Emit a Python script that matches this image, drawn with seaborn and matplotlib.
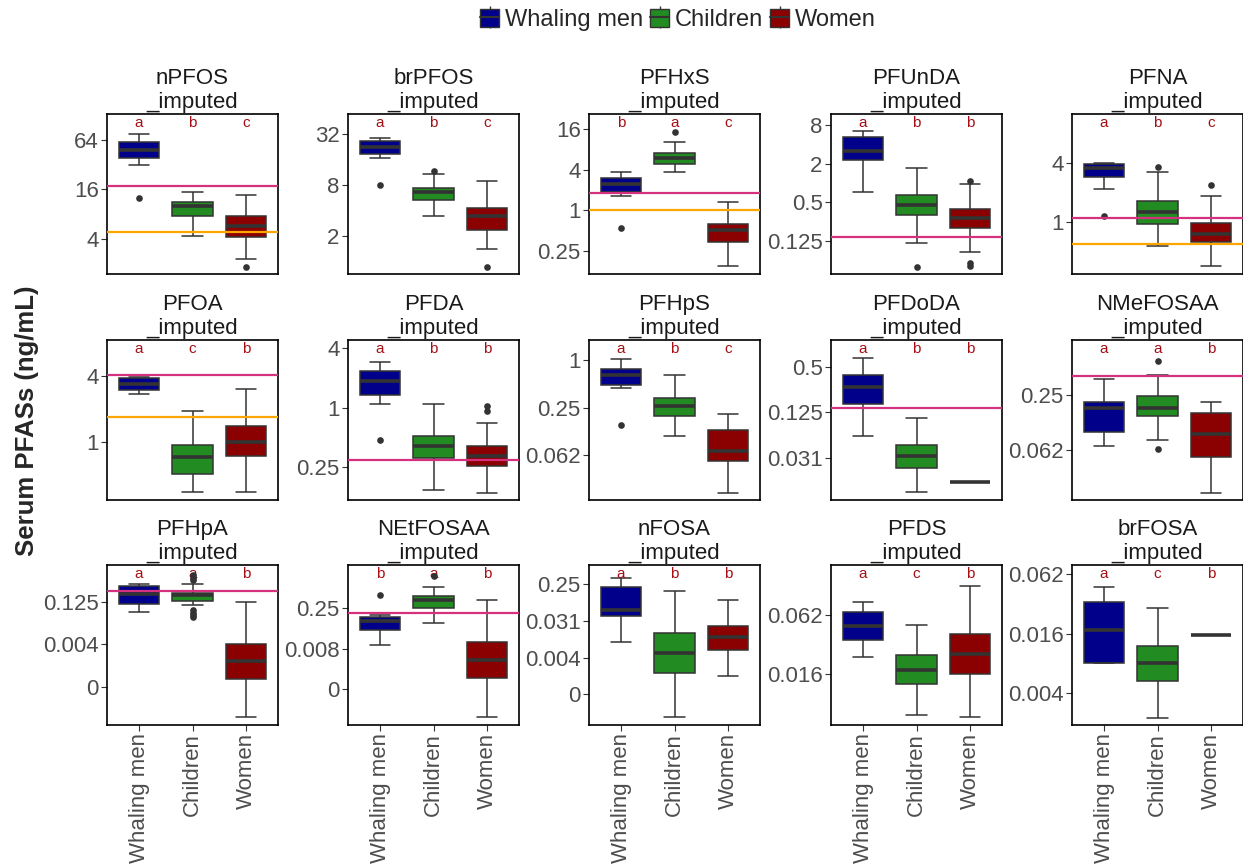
"""
Serum PFAS concentrations by group, one log2 boxplot panel per compound.
"""

import numpy as np
import pandas as pd
import matplotlib
matplotlib.use("Agg")
import matplotlib.pyplot as plt
import matplotlib.transforms as mtransforms
from matplotlib.patches import Patch
from matplotlib.lines import Line2D
from matplotlib.legend_handler import HandlerTuple
from matplotlib.ticker import NullLocator
import seaborn as sns

groups = ["Whaling men", "Children", "Women"]
compounds = ["nPFOS", "brPFOS", "PFHxS", "PFUnDA", "PFNA",
             "PFOA", "PFDA", "PFHpS", "PFDoDA", "NMeFOSAA",
             "PFHpA", "NEtFOSAA", "nFOSA", "PFDS", "brFOSA"]

# box stats: (lower whisker, q1, median, q3, upper whisker)
men_box = [
    (31.8, 38.8, 48.5, 60.5, 75.6),
    (16.4, 18.3, 22.3, 26.5, 28.2),
    (1.64, 1.88, 2.44, 2.99, 3.68),
    (0.72, 2.32, 3.2, 5.3, 6.5),
    (2.16, 2.85, 3.56, 3.94, 3.98),
    (2.77, 3.02, 3.43, 3.86, 3.95),
    (1.08, 1.33, 1.88, 2.35, 2.93),
    (0.45, 0.48, 0.65, 0.77, 1.03),
    (0.061, 0.163, 0.27, 0.39, 0.65),
    (0.068, 0.097, 0.177, 0.206, 0.37),
    (0.055, 0.106, 0.23, 0.45, 0.52),
    (0.0107, 0.039, 0.084, 0.112, 0.141),
    (0.0094, 0.041, 0.059, 0.215, 0.36),
    (0.0235, 0.0345, 0.049, 0.068, 0.086),
    (0.0079, 0.0079, 0.017, 0.033, 0.046),
]
children_box = [
    (4.4, 7.5, 10.0, 11.1, 14.8),
    (3.5, 5.28, 6.55, 7.3, 10.8),
    (3.68, 4.87, 5.9, 6.9, 10.3),
    (0.115, 0.32, 0.45, 0.66, 1.69),
    (0.57, 0.97, 1.26, 1.64, 3.22),
    (0.35, 0.51, 0.74, 0.95, 1.94),
    (0.147, 0.31, 0.41, 0.52, 1.08),
    (0.108, 0.196, 0.26, 0.33, 0.64),
    (0.011, 0.023, 0.033, 0.046, 0.106),
    (0.080, 0.145, 0.178, 0.244, 0.41),
    (0.095, 0.136, 0.217, 0.25, 0.53),
    (0.069, 0.25, 0.50, 0.72, 1.47),
    (0.000134, 0.00165, 0.0052, 0.0157, 0.168),
    (0.0059, 0.0123, 0.0173, 0.0242, 0.050),
    (0.0022, 0.0052, 0.0079, 0.0116, 0.0286),
]
women_box = [
    (2.3, 4.27, 5.7, 7.5, 13.8),
    (1.43, 2.4, 3.5, 4.29, 9.0),
    (0.149, 0.34, 0.52, 0.63, 1.34),
    (0.082, 0.198, 0.28, 0.39, 0.98),
    (0.36, 0.63, 0.77, 0.99, 1.84),
    (0.354, 0.75, 1.01, 1.40, 3.08),
    (0.137, 0.253, 0.32, 0.41, 0.70),
    (0.0206, 0.052, 0.070, 0.13, 0.21),
    (0.0149, 0.0149, 0.0149, 0.0149, 0.0149),
    (0.0212, 0.052, 0.092, 0.156, 0.206),
    (1.0e-5, 0.00023, 0.00098, 0.0039, 0.125),
    (2.2e-5, 0.00064, 0.0030, 0.0135, 0.5),
    (0.00137, 0.0061, 0.0123, 0.0234, 0.101),
    (0.0056, 0.0156, 0.0252, 0.040, 0.124),
    (0.015, 0.015, 0.015, 0.015, 0.015),
]

men_out = [[12.6], [8.0], [0.54], [], [1.15], [], [0.47], [0.152], [], [],
           [], [0.74], [], [], []]
children_out = [[], [11.6], [14.4], [0.048], [3.65], [], [], [], [], [0.59, 0.063],
                [1.12, 0.90, 0.74, 0.063, 0.05, 0.042, 0.036], [3.9], [], [], []]
women_out = [[1.83], [0.88], [], [1.09, 0.056, 0.051], [2.39], [], [1.04, 0.93], [], [], [],
             [], [], [], [], []]

letters = ["abc", "abc", "bac", "abb", "abc",
           "acb", "abb", "abc", "abb", "aab",
           "aab", "bab", "abb", "acb", "acb"]

magenta_ref = [17.5, None, 1.82, 0.142, 1.10,
               4.11, 0.293, None, 0.142, 0.40,
               0.31, 0.163, None, None, None]
orange_ref = [4.8, None, 1.0, None, 0.61,
              1.69, None, None, None, None,
              None, None, None, None, None]

# y ticks as log2 exponents
tick_exp = [[6, 4, 2], [5, 3, 1], [4, 2, 0, -2], [3, 1, -1, -3], [2, 0],
            [2, 0], [2, 0, -2], [0, -2, -4], [-1, -3, -5], [-2, -4],
            [-3, -8, -13], [-2, -7, -12], [-2, -5, -8, -11], [-4, -6], [-4, -6, -8]]

# panel y limits (log2)
ylims = [(0.59, 7.03), (-0.47, 5.77), (-3.12, 4.72), (-4.73, 3.59), (-1.74, 3.65),
         (-1.75, 3.10), (-3.12, 2.28), (-5.89, 0.85), (-6.84, 0.18), (-5.83, -0.01),
         (-17.5, 1.35), (-16.4, 3.29), (-13.5, -0.44), (-7.74, -2.29), (-9.08, -3.69)]

pal = {"Whaling men": "#00008B", "Children": "#228B22", "Women": "#8B0000"}
dark = "#333333"
magenta = "#D6317F"
orange = "#FFA500"
letter_col = "#A50F15"

sns.set_theme(style="white")
plt.rcParams["font.family"] = ["Liberation Sans", "DejaVu Sans"]

W, H = 1243, 865
fig = plt.figure(figsize=(W / 100, H / 100), dpi=100)

lefts = [107, 348, 589, 831, 1072]
tops = [114, 340, 565]
pw, ph = 171, 160

for i, comp in enumerate(compounds):
    r, c = divmod(i, 5)
    ax = fig.add_axes([lefts[c] / W, 1 - (tops[r] + ph) / H, pw / W, ph / H])

    rows = []
    for g, box in zip(groups, (men_box[i], children_box[i], women_box[i])):
        rows += [(g, v) for v in box]
    df = pd.DataFrame(rows, columns=["group", "value"])
    sns.boxplot(data=df, x="group", y="value", hue="group", order=groups,
                hue_order=groups, palette=pal, saturation=1, whis=np.inf, width=0.75,
                linecolor=dark, linewidth=1.1, legend=False, log_scale=2,
                medianprops=dict(linewidth=2.6, color=dark), ax=ax)

    orows = []
    for g, outs in zip(groups, (men_out[i], children_out[i], women_out[i])):
        orows += [(g, v) for v in outs]
    if orows:
        odf = pd.DataFrame(orows, columns=["group", "value"])
        sns.stripplot(data=odf, x="group", y="value", order=groups, jitter=False,
                      color=dark, size=4.8, log_scale=2, ax=ax, zorder=4)

    if magenta_ref[i] is not None:
        ax.axhline(magenta_ref[i], color=magenta, lw=1.6, zorder=5)
    if orange_ref[i] is not None:
        ax.axhline(orange_ref[i], color=orange, lw=1.6, zorder=5)

    trans = mtransforms.blended_transform_factory(ax.transData, ax.transAxes)
    for j, let in enumerate(letters[i]):
        ax.text(j, 0.944, let, transform=trans, ha="center", va="center",
                color=letter_col, fontsize=11)

    ax.set_xlim(-0.6, 2.6)
    ax.set_ylim(2.0 ** ylims[i][0], 2.0 ** ylims[i][1])
    ticks = [2.0 ** e for e in tick_exp[i]]
    ax.set_yticks(ticks)
    ax.set_yticklabels([f"{round(t, 3):g}" for t in ticks])
    ax.yaxis.set_minor_locator(NullLocator())
    ax.set_xlabel("")
    ax.set_ylabel("")
    ax.set_title(f"{comp}\n_imputed", fontsize=16, color="#1A1A1A", pad=4,
                 linespacing=1.22)

    for sp in ax.spines.values():
        sp.set_color("black")
        sp.set_linewidth(1.2)
    ax.tick_params(axis="y", which="major", left=True, length=4, width=0.8,
                   color=dark, labelcolor="#4D4D4D", labelsize=16, pad=2)
    if r == 2:
        ax.tick_params(axis="x", bottom=True, length=4, width=0.8, color=dark,
                       labelcolor="#4D4D4D", labelsize=16, pad=2)
        for lab in ax.get_xticklabels():
            lab.set_rotation(90)
            lab.set_va("top")
            lab.set_ha("center")
    else:
        ax.tick_params(axis="x", bottom=False, labelbottom=False)

fig.text(27 / W, 1 - 421 / H, "Serum PFASs (ng/mL)", rotation=90,
         fontweight="bold", fontsize=18.5, ha="center", va="center")

handles = []
for g in groups:
    handles.append((Line2D([], [], marker="|", markersize=16, color=dark,
                           markeredgewidth=1, linestyle="none"),
                    Patch(facecolor=pal[g], edgecolor=dark, linewidth=1),
                    Line2D([], [], color=dark, lw=1.5)))
fig.legend(handles, groups, loc="center", bbox_to_anchor=(678 / W, 1 - 20 / H),
           ncol=3, frameon=False, fontsize=17, handlelength=0.8, handleheight=0.8,
           handletextpad=0.25, columnspacing=0.3,
           handler_map={tuple: HandlerTuple(ndivide=1, pad=0)})

fig.savefig("out.png", dpi=100)
